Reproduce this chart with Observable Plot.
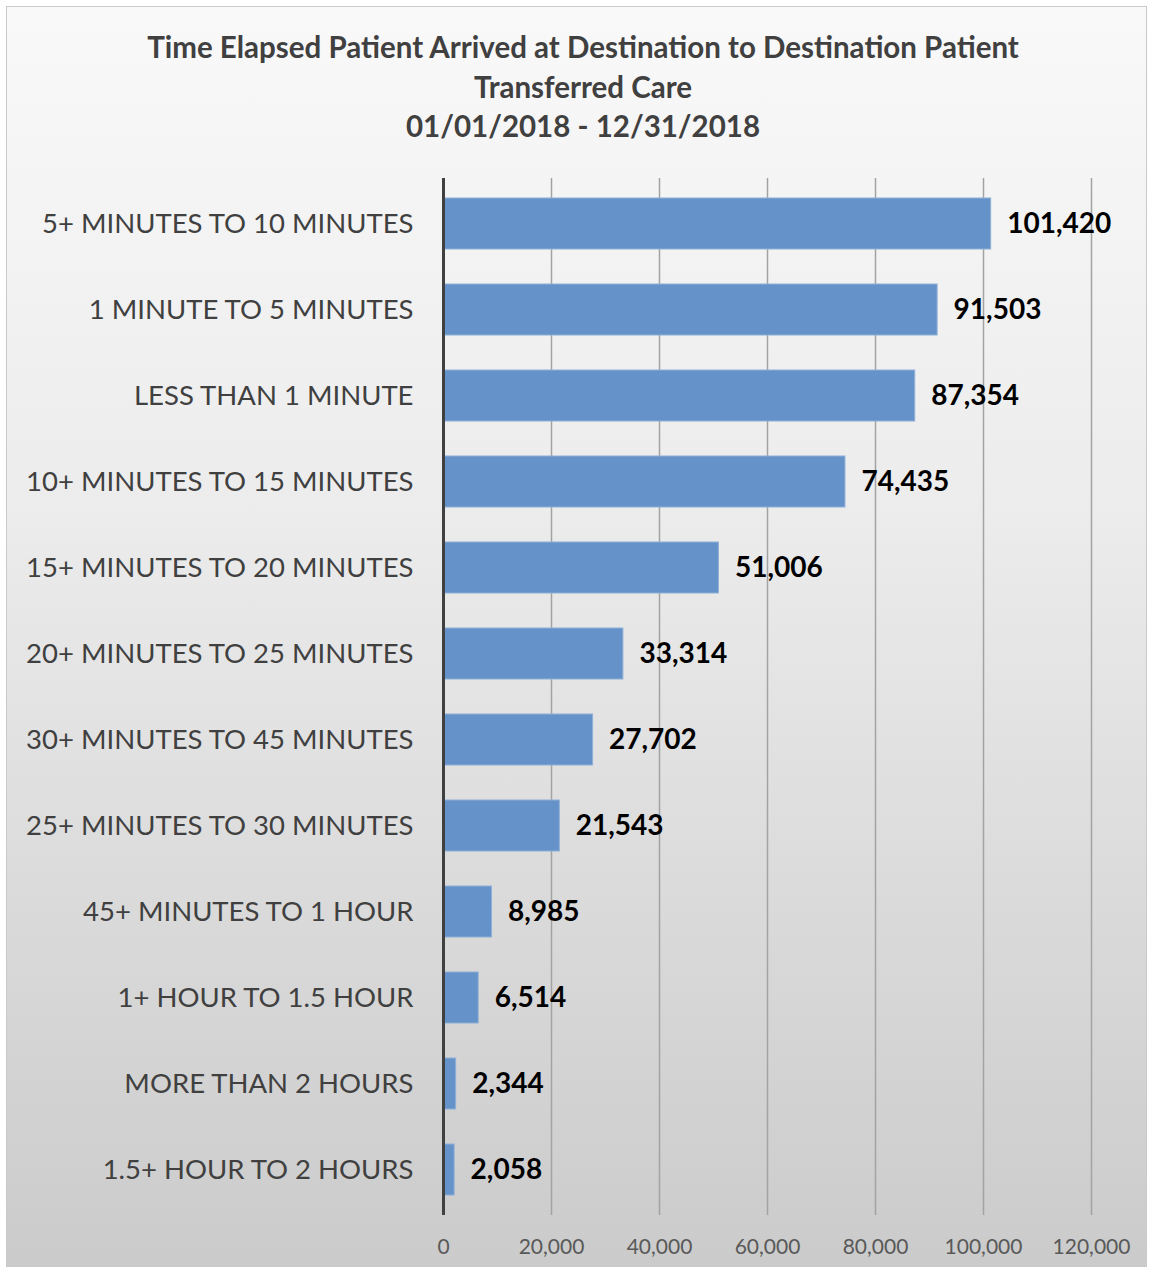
<!DOCTYPE html>
<html>
<head>
<meta charset="utf-8">
<script src="https://cdn.jsdelivr.net/npm/d3@7"></script>
<script src="https://cdn.jsdelivr.net/npm/@observablehq/plot@0.6"></script>
<style>
  html, body { margin: 0; padding: 0; background: #ffffff; }
  #page { position: relative; width: 1154px; height: 1273px; overflow: hidden; background: #ffffff; }
  #frame { position: absolute; left: 6px; top: 6px; width: 1139px; height: 1259px;
           border: 1px solid #c9c9c9;
           background: linear-gradient(to bottom, #f9f9f9 0%, #ececec 40%, #d8d8d8 75%, #cbcbcb 100%); }
  #title { position: absolute; left: 0; top: 27px; width: 1166px; text-align: center;
           font-family: Lato, "Open Sans", sans-serif; font-weight: bold; font-size: 29.5px;
           line-height: 39.5px; color: #404040; }
  #chart { position: absolute; left: 0; top: 150px; }
</style>
</head>
<body>
<div id="page">
  <div id="frame"></div>
  <div id="title">Time Elapsed Patient Arrived at Destination to Destination Patient<br>Transferred Care<br>01/01/2018 - 12/31/2018</div>
  <div id="chart"></div>
</div>
<script>
const categories = [
  "5+ MINUTES TO 10 MINUTES",
  "1 MINUTE TO 5 MINUTES",
  "LESS THAN 1 MINUTE",
  "10+ MINUTES TO 15 MINUTES",
  "15+ MINUTES TO 20 MINUTES",
  "20+ MINUTES TO 25 MINUTES",
  "30+ MINUTES TO 45 MINUTES",
  "25+ MINUTES TO 30 MINUTES",
  "45+ MINUTES TO 1 HOUR",
  "1+ HOUR TO 1.5 HOUR",
  "MORE THAN 2 HOURS",
  "1.5+ HOUR TO 2 HOURS"
];
const values = [101420, 91503, 87354, 74435, 51006, 33314, 27702, 21543, 8985, 6514, 2344, 2058];
const xTicks = [0, 20000, 40000, 60000, 80000, 100000, 120000];

const data = categories.map((c, i) => ({category: c, value: values[i]}));
const fmt = d3.format(",");

const chart = Plot.plot({
  width: 1154,
  height: 1123,
  marginTop: 28,
  marginBottom: 58,
  marginLeft: 443,
  marginRight: 63,
  style: {background: "transparent", fontFamily: "Lato, 'Open Sans', sans-serif"},
  x: {domain: [0, 120000], ticks: xTicks, axis: null, label: null},
  y: {domain: categories, paddingInner: 0.41, paddingOuter: 0.2, axis: null, label: null},
  marks: [
    Plot.ruleX(xTicks.slice(1), {stroke: "#a3a3a3", strokeWidth: 1.5}),
    Plot.barX(data, {y: "category", x: "value", fill: "#6592c8", stroke: "#8fb0d8", strokeWidth: 1}),
    Plot.ruleX([0], {stroke: "#404040", strokeWidth: 3}),
    Plot.axisY({tickSize: 0, tickPadding: 30, fontSize: 27.5, fill: "#404040", label: null}),
    Plot.axisX({ticks: xTicks, tickFormat: fmt, tickSize: 0, tickPadding: 24, fontSize: 21, fill: "#595959", label: null}),
    Plot.text(data, {y: "category", x: "value", text: d => fmt(d.value), dx: 16, textAnchor: "start",
      fontSize: 28, fontWeight: "bold", fill: "#000000"})
  ]
});
document.getElementById("chart").appendChild(chart);
</script>
</body>
</html>
